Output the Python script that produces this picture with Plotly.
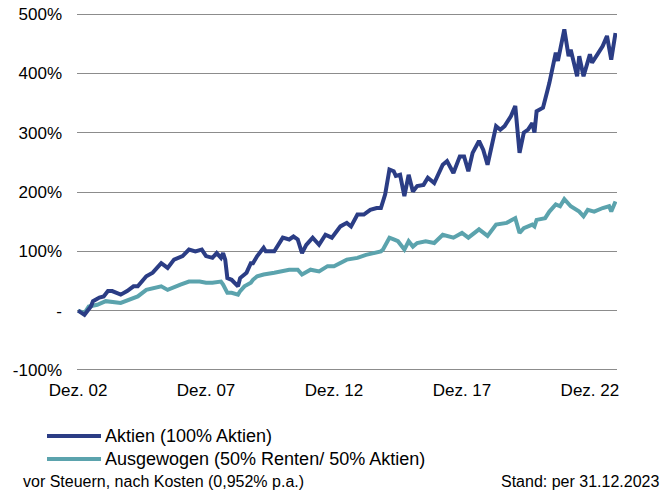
import plotly.graph_objects as go

# months since Dez. 02 and cumulative performance in %
aktien_month = [0, 3, 6, 7, 10, 12, 14, 16, 20, 23, 26, 28, 32, 35, 39, 42, 45, 49, 52, 55, 58, 60,
                63, 65, 67, 68, 69, 70, 72, 75, 76, 79, 81, 82, 84, 87, 88, 92, 96, 99, 101, 103,
                105, 107, 110, 113, 116, 119, 123, 126, 128, 131, 134, 137, 140, 142, 144, 146, 148,
                149, 151, 153, 155, 157, 159, 162, 164, 167, 171, 173, 176, 179, 181, 183, 185, 188,
                190, 192, 196, 198, 200, 203, 205, 207, 209, 211, 213, 214, 215, 218, 220, 221, 224,
                225, 228, 230, 231, 234, 235, 237, 240, 241, 243, 246, 248, 250, 252]
aktien_value = [0, -7, 7, 16, 22, 24, 33, 33, 27, 33, 41, 41, 58, 64, 80, 72, 86, 92, 103, 100, 103, 92,
                89, 97, 89, 97, 86, 55, 52, 41, 55, 64, 80, 80, 92, 106, 100, 100, 123, 120, 125, 120,
                97, 111, 123, 111, 128, 123, 142, 148, 142, 162, 162, 170, 173, 173, 196, 238, 235,
                227, 229, 193, 229, 201, 210, 212, 224, 215, 246, 252, 232, 260, 260, 235, 266, 286,
                271, 246, 311, 305, 311, 328, 345, 266, 300, 305, 316, 300, 336, 342, 370, 384, 435,
                421, 474, 429, 440, 395, 429, 395, 432, 418, 429, 446, 463, 423, 468]

ausgew_month = [0, 3, 5, 9, 13, 20, 28, 32, 39, 42, 48, 52, 57, 60, 63, 67, 68, 70, 72, 75, 76, 78,
                81, 82, 84, 87, 92, 99, 103, 105, 109, 113, 117, 120, 126, 131, 135, 142, 143, 146,
                148, 150, 153, 155, 157, 159, 163, 167, 171, 176, 180, 183, 188, 192, 196, 201, 205,
                207, 209, 213, 214, 215, 219, 221, 224, 226, 228, 231, 235, 237, 239, 242, 246, 249,
                250, 252]
ausgew_value = [0, -4, 7, 10, 16, 13, 24, 35, 41, 35, 44, 49, 49, 47, 47, 49, 44, 30, 30, 27, 33, 41,
                47, 52, 58, 61, 64, 69, 69, 61, 69, 66, 75, 75, 86, 89, 94, 100, 103, 123,
                120, 117, 103, 117, 108, 114, 117, 114, 128, 123, 131, 123, 137, 126, 145, 148, 156,
                131, 139, 145, 142, 153, 156, 167, 179, 176, 188, 176, 167, 159, 170, 167, 173, 176,
                167, 184]

x_tickvals = [0, 60, 120, 180, 240]
x_ticktext = ["Dez. 02", "Dez. 07", "Dez. 12", "Dez. 17", "Dez. 22"]
y_tickvals = [-100, 0, 100, 200, 300, 400, 500]
y_ticktext = ["-100%", "-", "100%", "200%", "300%", "400%", "500%"]

names = ["Aktien (100% Aktien)", "Ausgewogen (50% Renten/ 50% Aktien)"]
colors = ["#2b3d85", "#5ba3ad"]
FONT = "Arial, Liberation Sans, sans-serif"

W, H = 662, 492
L, R, T, B = 77, 45, 13, 121
PW, PH = W - L - R, H - T - B


def px(x):
    return (x - L) / PW


def py(y):
    return (H - B - y) / PH


fig = go.Figure()
fig.add_trace(go.Scatter(x=ausgew_month, y=ausgew_value, mode="lines", name=names[1],
                         line=dict(color=colors[1], width=4), showlegend=False))
fig.add_trace(go.Scatter(x=aktien_month, y=aktien_value, mode="lines", name=names[0],
                         line=dict(color=colors[0], width=4), showlegend=False))

fig.update_layout(
    width=W, height=H,
    margin=dict(l=L, r=R, t=T, b=B, autoexpand=False),
    paper_bgcolor="white", plot_bgcolor="white",
    font=dict(family=FONT, size=17, color="#000000"),
    xaxis=dict(range=[-0.5, 252.7], tickvals=x_tickvals, ticktext=x_ticktext, automargin=False,
               showgrid=False, zeroline=False, showline=False, ticks="",
               ticklabelstandoff=7, tickfont=dict(size=17)),
    yaxis=dict(range=[-101.7, 501.7], tickvals=y_tickvals, ticktext=y_ticktext, automargin=False,
               showgrid=True, gridcolor="#8c8c8c", gridwidth=1.4, zeroline=False,
               showline=False, ticks="", ticklabelstandoff=14, tickfont=dict(size=17)),
)

# manual legend
leg_y = [436, 459]
for i, (nm, col) in enumerate(zip(names, colors)):
    fig.add_shape(type="line", xref="paper", yref="paper",
                  x0=px(47), x1=px(101), y0=py(leg_y[i]), y1=py(leg_y[i]),
                  line=dict(color=col, width=4))
    fig.add_annotation(text=nm, xref="paper", yref="paper",
                       x=px(103), y=py(leg_y[i]),
                       xanchor="left", yanchor="middle", showarrow=False,
                       font=dict(size=18, family=FONT))

fig.add_annotation(text="vor Steuern, nach Kosten (0,952% p.a.)", xref="paper", yref="paper",
                   x=px(21), y=py(481), xanchor="left", yanchor="middle",
                   showarrow=False, font=dict(size=16, family=FONT))
fig.add_annotation(text="Stand: per 31.12.2023", xref="paper", yref="paper",
                   x=px(661), y=py(481), xanchor="right", yanchor="middle",
                   showarrow=False, font=dict(size=16, family=FONT))

fig.write_html("out.html", config={"displayModeBar": False},
               post_script="document.body.style.margin='0';document.body.style.overflow='hidden';")
